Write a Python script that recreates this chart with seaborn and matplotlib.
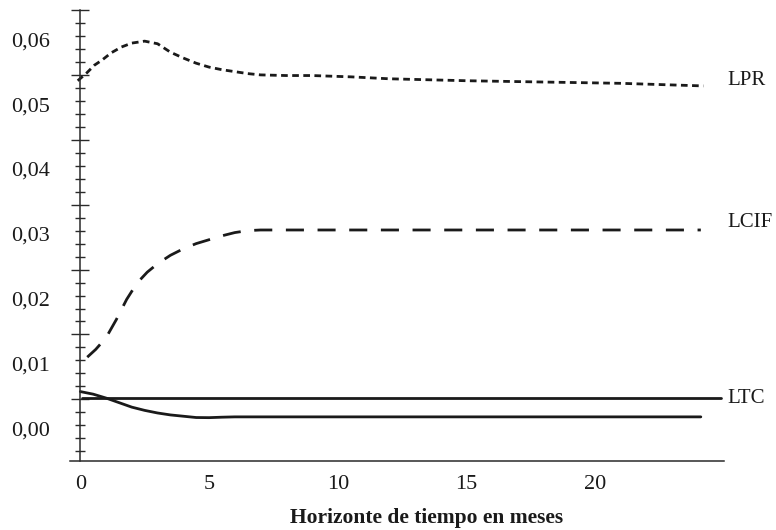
import matplotlib
matplotlib.use("Agg")
import matplotlib.pyplot as plt
import seaborn as sns
import numpy as np

# ---- data ----
lpr_x = [-0.1, 0.25, 0.55, 0.85, 1.2, 1.6, 2.0, 2.5, 3.0, 3.5, 4.0, 4.5, 5.0,
         5.5, 6.0, 6.5, 7.0, 8.0, 9.0, 10.5, 12.0, 15.0, 18.0, 21.0, 24.2]
lpr_y = [0.0536, 0.0548, 0.0560, 0.0568, 0.0579, 0.0588, 0.0594, 0.0597, 0.0593,
         0.0580, 0.0571, 0.0563, 0.0557, 0.0553, 0.0550, 0.0547, 0.0545, 0.0544,
         0.0544, 0.0542, 0.0539, 0.0536, 0.0534, 0.0532, 0.0528]

lcif_x = [0.27, 0.6, 1.0, 1.4, 1.8, 2.2, 2.6, 3.0, 3.5, 4.0, 4.5, 5.0, 5.5, 6.0,
          6.5, 7.0, 8.0, 12.0, 16.0, 20.0, 24.1]
lcif_y = [0.0110, 0.0122, 0.0140, 0.0168, 0.0199, 0.0224, 0.0241, 0.0254, 0.0267,
          0.0277, 0.0285, 0.0291, 0.0297, 0.0302, 0.0305, 0.0306, 0.0306, 0.0306,
          0.0306, 0.0306, 0.0306]

ltc_x = [0.05, 24.9]
ltc_y = [0.0047, 0.0047]

other_x = [0.0, 0.5, 1.0, 1.5, 2.0, 2.5, 3.0, 3.5, 4.0, 4.5, 5.0, 5.5, 6.0,
           10.0, 15.0, 20.0, 24.1]
other_y = [0.0057, 0.0053, 0.0047, 0.0040, 0.0033, 0.0028, 0.0024, 0.0021, 0.0019,
           0.0017, 0.00168, 0.00175, 0.0018, 0.0018, 0.0018, 0.0018, 0.0018]

series_labels = ["LPR", "LCIF", "LTC"]
label_y = [0.0536, 0.0318, 0.0047]

x_ticks = [0, 5, 10, 15, 20]
x_tick_labels = ["0", "5", "10", "15", "20"]
y_ticks = [0.00, 0.01, 0.02, 0.03, 0.04, 0.05, 0.06]
y_tick_labels = ["0,00", "0,01", "0,02", "0,03", "0,04", "0,05", "0,06"]
x_label = "Horizonte de tiempo en meses"

# ---- style ----
sns.set_theme(style="white")
plt.rcParams["font.family"] = ["Liberation Serif", "DejaVu Serif"]
plt.rcParams["axes.linewidth"] = 1.1

INK = "#1a1a1a"
AX = "#2a2a2a"
FS = 16

fig = plt.figure(figsize=(7.76, 5.30), dpi=100)
ax = fig.add_axes([70 / 776, 69 / 530, 654 / 776, 451 / 530])

xmin, xmax = -0.4, 25.0
ymin, ymax = -0.0050, 0.0645

lw = 2.0
sns.lineplot(x=lpr_x, y=lpr_y, ax=ax, color=INK, lw=lw, estimator=None, sort=False,
             linestyle=(0, (2.4, 1.6)))
sns.lineplot(x=lcif_x, y=lcif_y, ax=ax, color=INK, lw=lw, estimator=None, sort=False,
             linestyle=(0, (6.5, 4.9)))
sns.lineplot(x=ltc_x, y=ltc_y, ax=ax, color=INK, lw=lw, estimator=None, sort=False)
sns.lineplot(x=other_x, y=other_y, ax=ax, color=INK, lw=lw, estimator=None, sort=False)

ax.set_xlim(xmin, xmax)
ax.set_ylim(ymin, ymax)

for name, yv in zip(series_labels, label_y):
    ax.text(25.15, yv, name, fontsize=15, color=INK, va="center", ha="left",
            clip_on=False)

# spines
for s in ["top", "right"]:
    ax.spines[s].set_visible(False)
ax.spines["left"].set_position(("data", 0))
ax.spines["left"].set_color(AX)
ax.spines["bottom"].set_color(AX)

# x ticks
ax.set_xticks([0, 5, 10, 15, 20, 25])
ax.set_xticklabels(x_tick_labels + [""])
ax.set_xticks(np.arange(0, 26, 1), minor=True)
ax.tick_params(axis="x", which="major", direction="inout", length=12, width=1.0,
               color=AX, labelsize=FS, pad=4, labelcolor=INK)
ax.tick_params(axis="x", which="minor", direction="inout", length=6.5, width=1.0,
               color=AX)

# y labels (no tick marks)
ax.set_yticks(y_ticks)
ax.set_yticklabels(y_tick_labels)
ax.tick_params(axis="y", which="major", length=0, pad=22, labelsize=FS,
               labelcolor=INK)

# y tick marks on a secondary axis at x = 0
loc = (0 - xmin) / (xmax - xmin)
sec = ax.secondary_yaxis(loc)
sec.spines["left"].set_visible(False)
major_marks = [0.0045 + 0.01 * k for k in range(7)]
minor_marks = [m for m in [-0.0035 + 0.002 * k for k in range(34)]
               if min(abs(m - M) for M in major_marks) > 1e-4]
sec.set_yticks(major_marks)
sec.set_yticklabels([])
sec.set_yticks(minor_marks, minor=True)
sec.tick_params(axis="y", which="major", direction="inout", length=13, width=1.0,
                color=AX)
sec.tick_params(axis="y", which="minor", direction="inout", length=7, width=1.0,
                color=AX)

ax.set_xlabel(x_label, fontsize=15.5, fontweight="bold", color=INK)
ax.xaxis.label.set_va("center")
ax.xaxis.set_label_coords((427 - 70) / 654, -(518 - 461) / 451)
ax.set_ylabel("")

fig.savefig("out.png", dpi=100)
